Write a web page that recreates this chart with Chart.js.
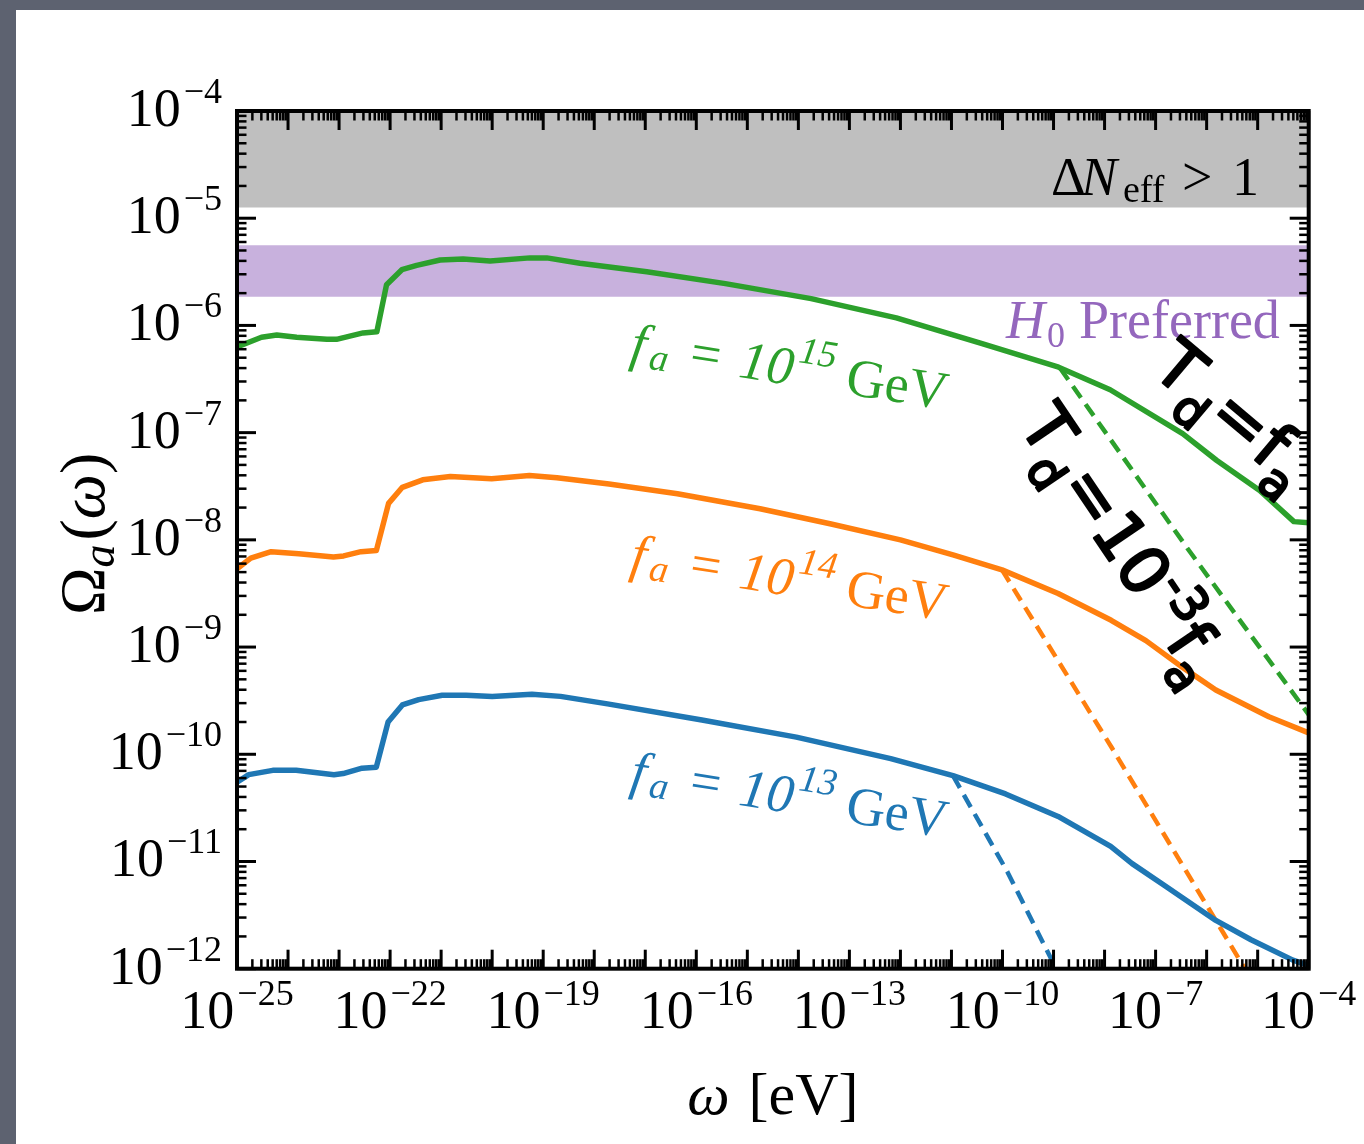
<!DOCTYPE html>
<html>
<head>
<meta charset="utf-8">
<script src="https://cdn.jsdelivr.net/npm/chart.js@4.4.1/dist/chart.umd.min.js"></script>
<style>
  html, body { margin: 0; padding: 0; width: 1364px; height: 1144px; overflow: hidden; background: #5d6270; }
  #panel { position: absolute; left: 16px; top: 10px; width: 1348px; height: 1134px; background: #ffffff; }
  canvas { display: block; }
</style>
</head>
<body>
<div id="panel"><canvas id="spectrum" width="1348" height="1134"></canvas></div>
<script>
// ---- spectra: log10(omega / eV) and log10(Omega_a) ----
const fa15_logW  = [-25.0, -24.52, -24.22, -23.83, -23.24, -23.05, -22.53, -22.26, -22.07, -21.77, -21.48, -21.02, -20.57, -20.04, -19.26, -18.93, -18.28, -16.97, -15.43, -13.75, -12.08, -10.40, -8.90, -7.89, -6.47, -5.80, -4.96, -4.29, -4.0];
const fa15_logOm = [-6.20, -6.11, -6.09, -6.11, -6.13, -6.13, -6.07, -6.06, -5.62, -5.48, -5.44, -5.39, -5.38, -5.40, -5.37, -5.37, -5.42, -5.50, -5.61, -5.75, -5.93, -6.17, -6.39, -6.60, -7.01, -7.26, -7.54, -7.83, -7.84];

const fa14_logW  = [-25.0, -24.73, -24.33, -23.79, -23.11, -22.91, -22.57, -22.27, -22.03, -21.76, -21.36, -20.82, -20.01, -19.27, -18.73, -17.71, -16.37, -14.75, -13.38, -12.00, -10.97, -10.01, -8.91, -7.87, -7.19, -6.50, -5.82, -4.78, -4.0];
const fa14_logOm = [-8.27, -8.17, -8.11, -8.13, -8.16, -8.15, -8.11, -8.10, -7.66, -7.51, -7.44, -7.41, -7.43, -7.40, -7.42, -7.48, -7.57, -7.71, -7.85, -8.00, -8.14, -8.28, -8.50, -8.75, -8.94, -9.18, -9.40, -9.65, -9.80];

const fa13_logW  = [-25.0, -24.77, -24.30, -23.84, -23.10, -22.92, -22.55, -22.27, -22.04, -21.76, -21.44, -20.98, -20.51, -20.00, -19.22, -18.66, -17.74, -15.89, -14.04, -12.19, -10.97, -9.94, -8.91, -7.88, -7.46, -6.84, -5.82, -5.13, -4.31, -4.0];
const fa13_logOm = [-10.26, -10.19, -10.15, -10.15, -10.19, -10.18, -10.13, -10.12, -9.70, -9.54, -9.49, -9.45, -9.45, -9.46, -9.44, -9.46, -9.53, -9.68, -9.84, -10.04, -10.20, -10.37, -10.58, -10.86, -11.02, -11.22, -11.55, -11.73, -11.92, -11.97];

// ---- decoupling at T_d = 1e-3 f_a (dashed continuations) ----
const fa15_early_logW  = [-8.87, -6.36, -4.0];
const fa15_early_logOm = [-6.40, -8.09, -9.63];
const fa14_early_logW  = [-10.01, -7.87, -5.82, -5.25];
const fa14_early_logOm = [-8.28, -9.93, -11.55, -12.0];
const fa13_early_logW  = [-10.97, -9.90, -8.95];
const fa13_early_logOm = [-10.20, -11.10, -12.0];

// ---- shaded regions ----
const deltaNeffLimit = 1.26e-5;          // Omega above this gives Delta N_eff > 1
const h0Preferred = [1.85e-6, 5.6e-6];   // band favoured by the H0 tension

// ---- axes ----
const omegaRange = [1e-25, 1e-4];
const OmegaRange = [1e-12, 1e-4];
const xLabelExponents = [-25, -22, -19, -16, -13, -10, -7, -4];
const yLabelExponents = [-12, -11, -10, -9, -8, -7, -6, -5, -4];

const GREEN = '#2ca02c', ORANGE = '#ff7f0e', BLUE = '#1f77b4', PURPLE = '#9467bd';

const toPoints = (lw, lo) => lw.map((v, i) => ({ x: Math.pow(10, v), y: Math.pow(10, lo[i]) }));
const flat = (v) => [{ x: omegaRange[0], y: v }, { x: omegaRange[1], y: v }];

function solid(data, color) {
  return { data, borderColor: color, borderWidth: 5.5, borderJoinStyle: 'round', borderCapStyle: 'butt', fill: false, pointRadius: 0, order: 1 };
}
function dashed(data, color) {
  return { data, borderColor: color, borderWidth: 4.5, borderDash: [14, 8], fill: false, pointRadius: 0, order: 2 };
}

const datasets = [
  solid(toPoints(fa15_logW, fa15_logOm), GREEN),
  solid(toPoints(fa14_logW, fa14_logOm), ORANGE),
  solid(toPoints(fa13_logW, fa13_logOm), BLUE),
  dashed(toPoints(fa15_early_logW, fa15_early_logOm), GREEN),
  dashed(toPoints(fa14_early_logW, fa14_early_logOm), ORANGE),
  dashed(toPoints(fa13_early_logW, fa13_early_logOm), BLUE),
  // Delta N_eff exclusion, filled to the top of the plot
  { data: flat(deltaNeffLimit), borderWidth: 0, borderColor: 'rgba(0,0,0,0)', backgroundColor: '#bfbfbf', fill: 'end', pointRadius: 0, order: 10 },
  // H0 band: lower edge, then upper edge filled down to it
  { data: flat(h0Preferred[0]), borderWidth: 0, borderColor: 'rgba(0,0,0,0)', fill: false, pointRadius: 0, order: 10 },
  { data: flat(h0Preferred[1]), borderWidth: 0, borderColor: 'rgba(0,0,0,0)', backgroundColor: '#c8b1dd', fill: '-1', pointRadius: 0, order: 10 }
];

const SERIF = '"Liberation Serif", "Times New Roman", serif';
const f = (size, italic, weight, family) => `${italic ? 'italic ' : ''}${weight || ''} ${size}px ${family || SERIF}`;

// draw a run of text pieces along a (possibly rotated) baseline
function drawRun(ctx, ox, oy, angleDeg, pieces, color, stroke) {
  ctx.save();
  ctx.translate(ox, oy);
  ctx.rotate(angleDeg * Math.PI / 180);
  ctx.fillStyle = color;
  ctx.strokeStyle = color;
  ctx.textAlign = 'left';
  ctx.textBaseline = 'alphabetic';
  let x = 0;
  for (const p of pieces) {
    ctx.font = p.font;
    if (p.at !== undefined) x = p.at;
    x += p.gap || 0;
    if (stroke) { ctx.lineWidth = stroke; ctx.lineJoin = 'round'; ctx.lineCap = 'round'; ctx.strokeText(p.t, x, p.dy || 0); }
    ctx.fillText(p.t, x, p.dy || 0);
    x += ctx.measureText(p.t).width;
  }
  ctx.restore();
}
function runWidth(ctx, pieces) {
  let w = 0;
  for (const p of pieces) { ctx.font = p.font; w += (p.gap || 0) + ctx.measureText(p.t).width; }
  return w;
}

// frame with inward major/minor ticks on all four sides
const framePlugin = {
  id: 'frame',
  afterDatasetsDraw(chart) {
    const { ctx, chartArea: a, scales: { x, y } } = chart;
    ctx.save();
    ctx.strokeStyle = '#000';
    const tick = (x1, y1, x2, y2, w) => { ctx.lineWidth = w; ctx.beginPath(); ctx.moveTo(x1, y1); ctx.lineTo(x2, y2); ctx.stroke(); };
    const lx0 = Math.round(Math.log10(omegaRange[0])), lx1 = Math.round(Math.log10(omegaRange[1]));
    for (let e = lx0; e <= lx1; e++) {
      for (let k = 1; k <= 9; k++) {
        if (e === lx1 && k > 1) break;
        const px = x.getPixelForValue(k * Math.pow(10, e));
        const len = k === 1 ? 19 : 9.5, w = k === 1 ? 3 : 2.5;
        tick(px, a.bottom, px, a.bottom - len, w);
        tick(px, a.top, px, a.top + len, w);
      }
    }
    const ly0 = Math.round(Math.log10(OmegaRange[0])), ly1 = Math.round(Math.log10(OmegaRange[1]));
    for (let e = ly0; e <= ly1; e++) {
      for (let k = 1; k <= 9; k++) {
        if (e === ly1 && k > 1) break;
        const py = y.getPixelForValue(k * Math.pow(10, e));
        const len = k === 1 ? 19 : 9.5, w = k === 1 ? 3 : 2.5;
        tick(a.left, py, a.left + len, py, w);
        tick(a.right, py, a.right - len, py, w);
      }
    }
    ctx.lineWidth = 4;
    ctx.strokeRect(a.left, a.top, a.right - a.left, a.bottom - a.top);
    ctx.restore();
  }
};

// tick labels, axis titles and annotations
const labelPlugin = {
  id: 'labels',
  afterDraw(chart) {
    const { ctx, chartArea: a, scales: { x, y } } = chart;
    const base = f(54), sup = f(36);
    const powLabel = (e) => [{ t: '10', font: base }, { t: '\u2212' + Math.abs(e), font: sup, gap: 3, dy: -23 }];

    for (const e of yLabelExponents) {
      const py = y.getPixelForValue(Math.pow(10, e));
      const pieces = powLabel(e);
      drawRun(ctx, a.left - 15 - runWidth(ctx, pieces), py + 15, 0, pieces, '#000');
    }
    for (const e of xLabelExponents) {
      const px = x.getPixelForValue(Math.pow(10, e));
      const pieces = powLabel(e);
      drawRun(ctx, px - runWidth(ctx, pieces) / 2, a.bottom + 59, 0, pieces, '#000');
    }

    // axis titles
    const xt = [{ t: '\u03C9', font: f(60, true) }, { t: ' [eV]', font: f(60), gap: 4 }];
    drawRun(ctx, (a.left + a.right) / 2 - runWidth(ctx, xt) / 2, 1104, 0, xt, '#000');
    const yt = [{ t: '\u03A9', font: f(64) }, { t: 'a', font: f(46, true), dy: 10 }, { t: '(', font: f(64), gap: 4 }, { t: '\u03C9', font: f(64, true) }, { t: ')', font: f(64) }];
    drawRun(ctx, 88, (a.top + a.bottom) / 2 - 6 + runWidth(ctx, yt) / 2, -90, yt, '#000');

    // shaded-region captions
    drawRun(ctx, 1035, 185, 0, [
      { t: '\u0394', font: f(54), at: 0 },
      { t: 'N', font: f(54, true), at: 30 },
      { t: 'eff', font: f(38), at: 72, dy: 7 },
      { t: '>', font: f(54), at: 131 },
      { t: '1', font: f(54), at: 181 }
    ], '#000');
    drawRun(ctx, 990, 328, 0, [
      { t: 'H', font: f(54, true), at: 0 },
      { t: '0', font: f(36), at: 41, dy: 9 },
      { t: 'Preferred', font: f(54), at: 73 }
    ], PURPLE);

    // f_a labels along each curve
    const faLabel = (exp) => [
      { t: 'f', font: f(54, true), at: 4 },
      { t: 'a', font: f(38, true), at: 24, dy: 6 },
      { t: '=', font: f(54), at: 64 },
      { t: '10', font: f(54, true), at: 114 },
      { t: exp, font: f(38, true), at: 171, dy: -24 },
      { t: 'GeV', font: f(54), at: 222 }
    ];
    drawRun(ctx, 609, 349, 9, faLabel('15'), GREEN);
    drawRun(ctx, 609, 560, 9, faLabel('14'), ORANGE);
    drawRun(ctx, 609, 777, 9, faLabel('13'), BLUE);

    // decoupling-temperature labels
    const SANS = '"DejaVu Sans", sans-serif';
    const big = f(66, false, '', SANS), small = f(48, false, '', SANS);
    drawRun(ctx, 1134, 362, 40, [
      { t: 'T', font: big },
      { t: 'd', font: small, dy: 20 },
      { t: '=', font: big, gap: 2 },
      { t: 'f', font: big, gap: 2 },
      { t: 'a', font: small, dy: 20 }
    ], '#000', 2.5);
    drawRun(ctx, 1002, 415, 56, [
      { t: 'T', font: big },
      { t: 'd', font: small, dy: 20 },
      { t: '=10', font: big, gap: 2 },
      { t: '-3', font: small, dy: -26 },
      { t: 'f', font: big, gap: 2 },
      { t: 'a', font: small, dy: 20 }
    ], '#000', 2.5);
  }
};

new Chart(document.getElementById('spectrum'), {
  type: 'line',
  data: { datasets },
  options: {
    responsive: false,
    animation: false,
    events: [],
    layout: { padding: { left: 221, top: 101, right: 55.3, bottom: 175.3 } },
    plugins: { legend: { display: false }, tooltip: { enabled: false } },
    elements: { point: { radius: 0 }, line: { tension: 0 } },
    scales: {
      x: { type: 'logarithmic', min: omegaRange[0], max: omegaRange[1], display: false },
      y: { type: 'logarithmic', min: OmegaRange[0], max: OmegaRange[1], display: false }
    }
  },
  plugins: [framePlugin, labelPlugin]
});
</script>
</body>
</html>
